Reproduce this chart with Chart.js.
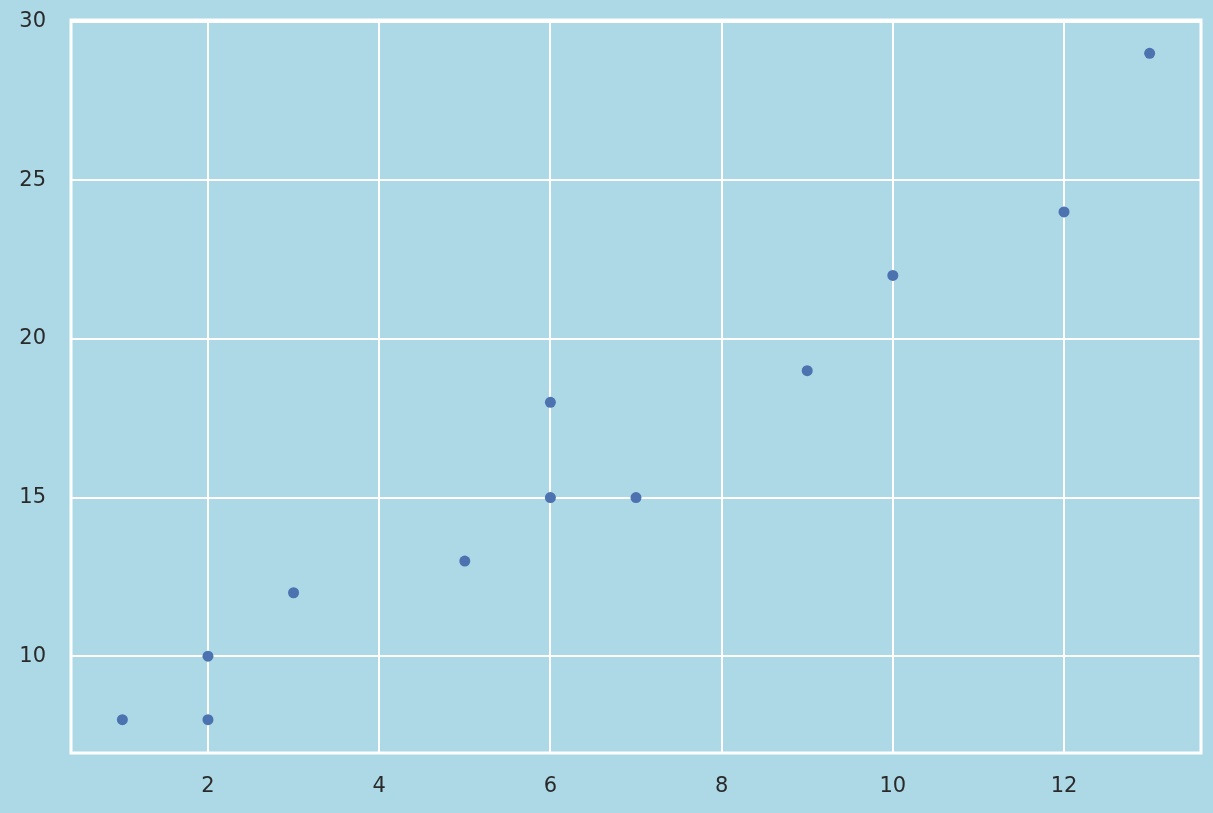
<!DOCTYPE html>
<html lang="en">
<head>
<meta charset="UTF-8">
<title>Scatter</title>
<script src="https://cdn.jsdelivr.net/npm/chart.js"></script>
<style>
    * { margin: 0; padding: 0; box-sizing: border-box; }
    body { background: #add8e6; width: 1213px; height: 813px; overflow: hidden; }
    canvas { display: block; }
</style>
</head>
<body>
<canvas id="chart" width="1213" height="813"></canvas>
<script>
    // data
    const xValues = [1, 2, 2, 3, 5, 6, 6, 7, 9, 10, 12, 13];
    const yValues = [8, 8, 10, 12, 13, 15, 18, 15, 19, 22, 24, 29];
    const xTicks = [2, 4, 6, 8, 10, 12];
    const yTicks = [10, 15, 20, 25, 30];

    const points = xValues.map((x, i) => ({ x: x, y: yValues[i] }));

    // background + white frame round the plot area
    const frame = {
        id: 'frame',
        beforeDraw(chart) {
            const c = chart.ctx;
            c.save();
            c.fillStyle = '#add8e6';
            c.fillRect(0, 0, chart.width, chart.height);
            c.restore();
        },
        afterDraw(chart) {
            const a = chart.chartArea;
            const c = chart.ctx;
            c.save();
            c.strokeStyle = '#ffffff';
            c.lineWidth = 3;
            c.strokeRect(a.left, a.top, a.right - a.left, a.bottom - a.top);
            c.restore();
        }
    };

    const tickFont = { family: 'DejaVu Sans', size: 21 };

    new Chart(document.getElementById('chart'), {
        type: 'scatter',
        data: {
            datasets: [{
                data: points,
                backgroundColor: '#4c72b0',
                borderWidth: 0,
                pointRadius: 5.5,
                pointHoverRadius: 5.5
            }]
        },
        options: {
            responsive: false,
            animation: false,
            layout: { padding: { top: 20, right: 12, left: 0, bottom: 0 } },
            plugins: { legend: { display: false }, tooltip: { enabled: false } },
            scales: {
                x: {
                    type: 'linear',
                    min: 0.4,
                    max: 13.6,
                    afterBuildTicks: s => { s.ticks = xTicks.map(v => ({ value: v })); },
                    afterFit: s => { s.height = 60; },
                    grid: { color: '#ffffff', lineWidth: 2, drawTicks: false },
                    border: { display: false },
                    ticks: { color: '#2a2a2a', font: tickFont, padding: 21, maxRotation: 0 }
                },
                y: {
                    type: 'linear',
                    min: 6.95,
                    max: 30.05,
                    afterBuildTicks: s => { s.ticks = yTicks.map(v => ({ value: v })); },
                    afterFit: s => { s.width = 71; s.paddingTop = 0; s.paddingBottom = 0; },
                    grid: { color: '#ffffff', lineWidth: 2, drawTicks: false },
                    border: { display: false },
                    ticks: { color: '#2a2a2a', font: tickFont, padding: 25 }
                }
            }
        },
        plugins: [frame]
    });
</script>
</body>
</html>
